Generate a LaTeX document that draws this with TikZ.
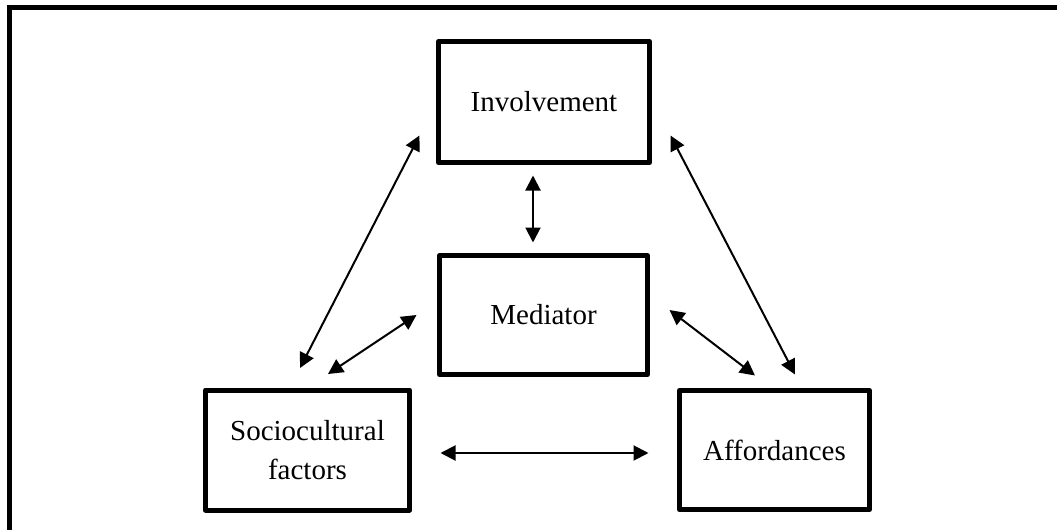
\documentclass[tikz,border=0pt]{standalone}
\usepackage{fontspec}
\setmainfont{Liberation Serif}
\usetikzlibrary{arrows.meta}
\begin{document}
\begin{tikzpicture}[x=.5pt,y=-.5pt,>={Triangle[length=7.5pt,width=7.5pt]},
	box/.style={draw,line width=2.5pt,line join=round,inner sep=0pt,align=center,font=\fontsize{14.5}{19.5}\selectfont},
	link/.style={<->,line width=1pt}]
	\useasboundingbox(0,0) rectangle (1057,530);
	\draw[line width=2.5pt](9.8,530)--(9.8,7.5)--(1057,7.5);
	\node[box,minimum width=105.5pt,minimum height=60.5pt] (inv) at (544,102) {Involvement};
	\node[box,minimum width=104pt,minimum height=59.5pt] (med) at (543.5,315) {Mediator};
	\node[box,minimum width=102pt,minimum height=60pt] (soc) at (307.5,450) {Sociocultural\\factors};
	\node[box,minimum width=95pt,minimum height=59.5pt] (aff) at (774.5,450) {Affordances};
	% links between the boxes
	\draw[link]([shift={(-7.5,-19.5)}]soc.north)--([shift={(-16.5,-29.5)}]inv.south west);
	\draw[link]([shift={(20.5,-13.5)}]soc.north)--([shift={(-20.5,0)}]med.west);
	\draw[link]([shift={(-11,10.5)}]inv.south)--([shift={(-10.5,-10.5)}]med.north);
	\draw[link]([shift={(18.5,-29.5)}]inv.south east)--([shift={(20.5,-13.5)}]aff.north);
	\draw[link]([shift={(19.5,-5)}]med.east)--([shift={(-19.5,-12.5)}]aff.north);
	\draw[link]([shift={(28.5,3)}]soc.east)--([shift={(-28.5,3)}]aff.west);
\end{tikzpicture}
\end{document}
